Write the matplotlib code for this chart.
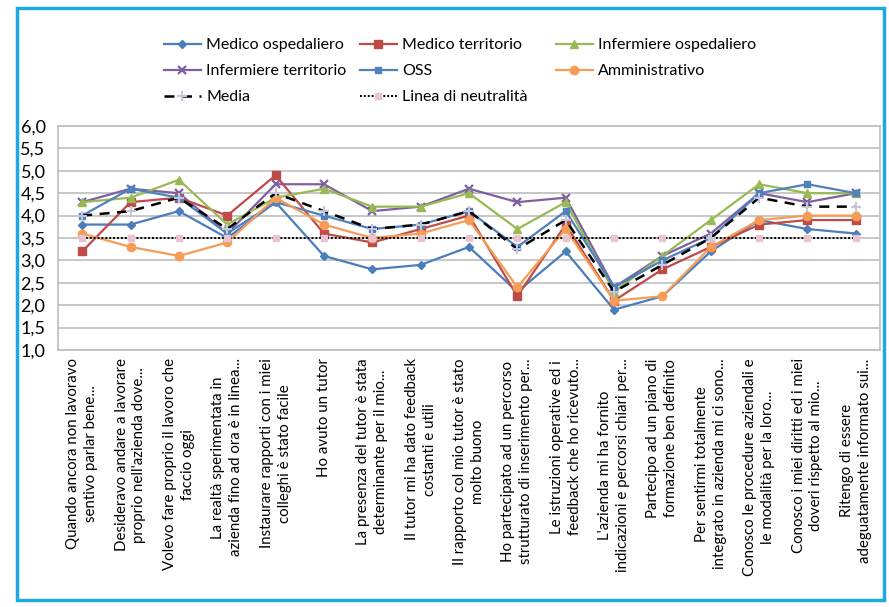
import numpy as np
import matplotlib
matplotlib.use("Agg")
from matplotlib import pyplot as plt
from matplotlib.patches import Rectangle

plt.rcParams['font.family'] = ['Lato', 'DejaVu Sans']

# category labels (already wrapped as in the picture)
categories = [
    "Quando ancora non lavoravo\nsentivo parlar bene...",
    "Desideravo andare a lavorare\nproprio nell'azienda dove...",
    "Volevo fare proprio il lavoro che\nfaccio oggi",
    "La realtà sperimentata in\nazienda fino ad ora è in linea...",
    "Instaurare rapporti con i miei\ncolleghi è stato facile",
    "Ho avuto un tutor",
    "La presenza del tutor è stata\ndeterminante per il mio...",
    "Il tutor mi ha dato feedback\ncostanti e utili",
    "Il rapporto col mio tutor è stato\nmolto buono",
    "Ho partecipato ad un percorso\nstrutturato di inserimento per...",
    "Le istruzioni operative ed i\nfeedback che ho ricevuto...",
    "L'azienda mi ha fornito\nindicazioni e percorsi chiari per...",
    "Partecipo ad un piano di\nformazione ben definito",
    "Per sentirmi totalmente\nintegrato in azienda mi ci sono...",
    "Conosco le procedure aziendali e\nle modalità per la loro...",
    "Conosco i miei diritti ed i miei\ndoveri rispetto al mio...",
    "Ritengo di essere\nadeguatamente informato sui...",
]

medico_osp = [3.8, 3.8, 4.1, 3.5, 4.3, 3.1, 2.8, 2.9, 3.3, 2.3, 3.2, 1.9, 2.2, 3.2, 3.9, 3.7, 3.6]
medico_terr = [3.2, 4.3, 4.4, 4.0, 4.9, 3.6, 3.4, 3.7, 4.0, 2.2, 3.8, 2.1, 2.8, 3.3, 3.8, 3.9, 3.9]
inf_osp = [4.3, 4.4, 4.8, 3.8, 4.4, 4.6, 4.2, 4.2, 4.5, 3.7, 4.3, 2.3, 3.1, 3.9, 4.7, 4.5, 4.5]
inf_terr = [4.3, 4.6, 4.5, 3.6, 4.7, 4.7, 4.1, 4.2, 4.6, 4.3, 4.4, 2.4, 3.1, 3.6, 4.5, 4.3, 4.5]
oss = [4.0, 4.6, 4.4, 3.6, 4.3, 4.0, 3.7, 3.8, 4.1, 3.3, 4.1, 2.4, 3.0, 3.5, 4.5, 4.7, 4.5]
amministrativo = [3.6, 3.3, 3.1, 3.4, 4.4, 3.8, 3.5, 3.6, 3.9, 2.4, 3.7, 2.1, 2.2, 3.3, 3.9, 4.0, 4.0]
media = [4.0, 4.1, 4.4, 3.7, 4.5, 4.1, 3.7, 3.8, 4.1, 3.25, 3.9, 2.3, 2.9, 3.5, 4.4, 4.2, 4.2]
neutralita = [3.5] * 17

yticks = [1.0, 1.5, 2.0, 2.5, 3.0, 3.5, 4.0, 4.5, 5.0, 5.5, 6.0]

fig = plt.figure(figsize=(8.89, 6.07), dpi=100)
ax = fig.add_axes([58/889, 1-350/607, (880-58)/889, 224/607])
x = np.arange(len(categories))

l_mo, = ax.plot(x, medico_osp, color='#4A7EBB', marker='D', ms=4.5, lw=1.6, label='Medico ospedaliero')
l_it, = ax.plot(x, inf_terr, color='#7D60A0', marker='x', ms=6, mew=1.6, lw=1.6, label='Infermiere territorio')
l_mt, = ax.plot(x, medico_terr, color='#BE4B48', marker='s', ms=5.5, lw=1.6, label='Medico territorio')
l_io, = ax.plot(x, inf_osp, color='#98B954', marker='^', ms=6, lw=1.6, label='Infermiere ospedaliero')
l_oss, = ax.plot(x, oss, color='#4F81BD', marker='s', ms=5, lw=1.6, label='OSS')
l_am, = ax.plot(x, amministrativo, color='#F59D56', marker='o', ms=6, lw=1.6, label='Amministrativo')
l_ne, = ax.plot(x, neutralita, color='black', ls=(0, (1, 1)), lw=1.4, marker='s', ms=4,
                mfc='#E8C4D0', mec='#E8C4D0', label='Linea di neutralità')
l_me, = ax.plot(x, media, color='black', ls=(0, (4, 3)), lw=1.8, marker='+', ms=7, mew=1.5,
                mec='#C5C6DA', label='Media')

ax.set_xlim(-0.5, len(categories) - 0.5)
ax.set_ylim(1.0, 6.0)
ax.set_yticks(yticks)
ax.set_yticklabels([f"{v:.1f}".replace('.', ',') for v in yticks], fontsize=13)
ax.yaxis.grid(True, color='#BEBEBE', lw=1.2)
ax.set_axisbelow(True)
ax.tick_params(axis='y', length=0, pad=9)
ax.tick_params(axis='x', length=0, pad=6)
ax.set_xticks(x)
ax.set_xticklabels(categories, rotation=90, fontsize=10.8, ha='center', va='top',
                   multialignment='center', linespacing=1.35)
for s in ax.spines.values():
    s.set_color('#BEBEBE')
    s.set_linewidth(1.2)

# legend: three equal-width columns like the spreadsheet legend
columns = [([l_mo, l_it, l_me], 156), ([l_mt, l_oss, l_ne], 352), ([l_io, l_am], 548)]
for hs, xpix in columns:
    fig.legend(handles=hs, labels=[h.get_label() for h in hs], loc='upper left',
               bbox_to_anchor=(xpix/889, 1-30/607), frameon=False, borderpad=0,
               fontsize=11.5, handlelength=2.3, labelspacing=0.75, handletextpad=0.35)

fig.patches.append(Rectangle((17/889, 1-600/607), (884-17)/889, (600-8)/607,
                             transform=fig.transFigure, fill=False,
                             edgecolor='#1FA9E1', lw=2.5))

fig.savefig('out.png', dpi=100)
